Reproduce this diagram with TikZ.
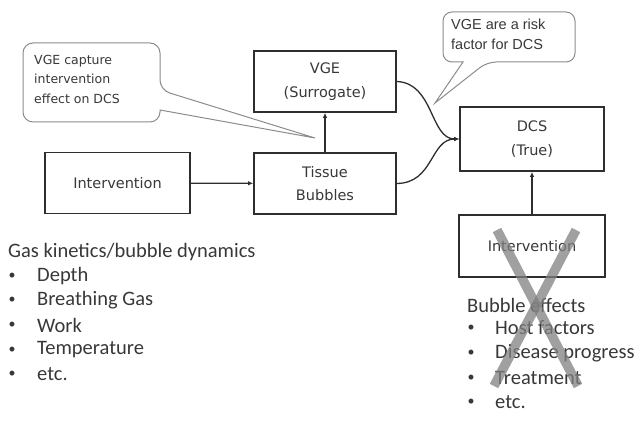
\documentclass[tikz,border=0pt]{standalone}
\usepackage{fontspec}
\setmainfont{Carlito}
\newfontfamily\boxfont{DejaVu Sans}
\newfontfamily\narrowfont{Liberation Sans}
\usetikzlibrary{arrows.meta}
\definecolor{ink}{rgb}{0.18,0.18,0.18}
\definecolor{txt}{rgb}{0.22,0.22,0.22}
\definecolor{callgray}{rgb}{0.55,0.55,0.55}
\tikzset{
  box/.style={draw=ink, line width=1.7pt, minimum width=142pt, minimum height=61pt, align=center, text=txt, inner sep=2pt},
  boxtext/.style={font=\boxfont\fontsize{14.5}{23.5}\selectfont},
  conn/.style={draw=ink, line width=1.3pt},
  tip/.style={-{Latex[length=5pt,width=4.5pt]}},
  callout/.style={draw=callgray, line width=1pt, fill=white},
  listtext/.style={anchor=west, text=txt, font=\fontsize{20.5}{24}\selectfont, inner sep=0pt},
  bullet/.style={anchor=center, text=txt, font=\fontsize{14}{24}\selectfont, inner sep=0pt},
  cross/.style={draw=gray, draw opacity=0.75, line width=9.5pt}
}
\begin{document}
\begin{tikzpicture}[x=1pt,y=-1pt]
\useasboundingbox (0,0) rectangle (635,427);
% boxes
\node[box, boxtext] (vge) at (325,81.5) {VGE\\(Surrogate)};
\node[box, boxtext] (tissue) at (325,183.5) {Tissue\\Bubbles};
\node[box, boxtext, minimum width=145pt] (intl) at (117.5,183) {Intervention};
\node[box, boxtext, minimum width=144pt, minimum height=64pt] (dcs) at (532,139) {DCS\\(True)};
\node[box, boxtext, minimum width=146pt, minimum height=62pt] (intr) at (532,246) {Intervention};
% connectors
\draw[conn, tip] (intl) -- (tissue);
\draw[conn, tip] (tissue) -- (vge);
\draw[conn, tip] (vge.east) .. controls (434,83) and (430,139) .. (dcs.west);
\draw[conn, tip] (tissue.east) .. controls (434,183) and (430,139) .. (dcs.west);
\draw[conn, tip] (intr) -- (dcs);
% callout 1
\coordinate (tipA) at (315,138);
\draw[callout] [rounded corners=10pt] (23,43) -- (160,43) -- (160,90) [sharp corners] -- (tipA) -- (160,110) [rounded corners=10pt] -- (160,122) -- (23,122) -- cycle;
\node[anchor=north west, align=left, text=txt, font=\boxfont\fontsize{12.5}{19.5}\selectfont, inner sep=0pt] (c1) at (34,55) {VGE capture\\intervention\\effect on DCS};
% callout 2
\coordinate (tipB) at (435,103);
\draw[callout] [rounded corners=9pt] (443,12) -- (575,12) -- (575,62) -- (487,62) [sharp corners] -- (tipB) -- (463,62) [rounded corners=9pt] -- (443,62) -- cycle;
\node[anchor=north west, align=left, text=txt, font=\narrowfont\fontsize{14.5}{20}\selectfont, inner sep=0pt] (c2) at (451,19) {VGE are a risk\\factor for DCS};
% left list
\node[listtext] (lh) at (8,252) {Gas kinetics/bubble dynamics};
\foreach \y/\t [count=\i] in {276/Depth, 300/Breathing Gas, 325/Work, 350/Temperature, 374/etc.}{
  \node[bullet] (lb\i) at (12,\y) {•};
  \node[listtext] (lt\i) at (37,\y) {\t};
}
% right list
\node[listtext] (rh) at (467,305) {Bubble effects};
\foreach \y/\t [count=\i] in {328/Host factors, 353/Disease progress, 378/Treatment, 402/etc.}{
  \node[bullet] (rb\i) at (471,\y) {•};
  \node[listtext] (rt\i) at (495,\y) {\t};
}
% cross
\draw[cross] (497,230) -- (578,386);
\draw[cross] (576,230) -- (494,386);
\end{tikzpicture}
\end{document}
